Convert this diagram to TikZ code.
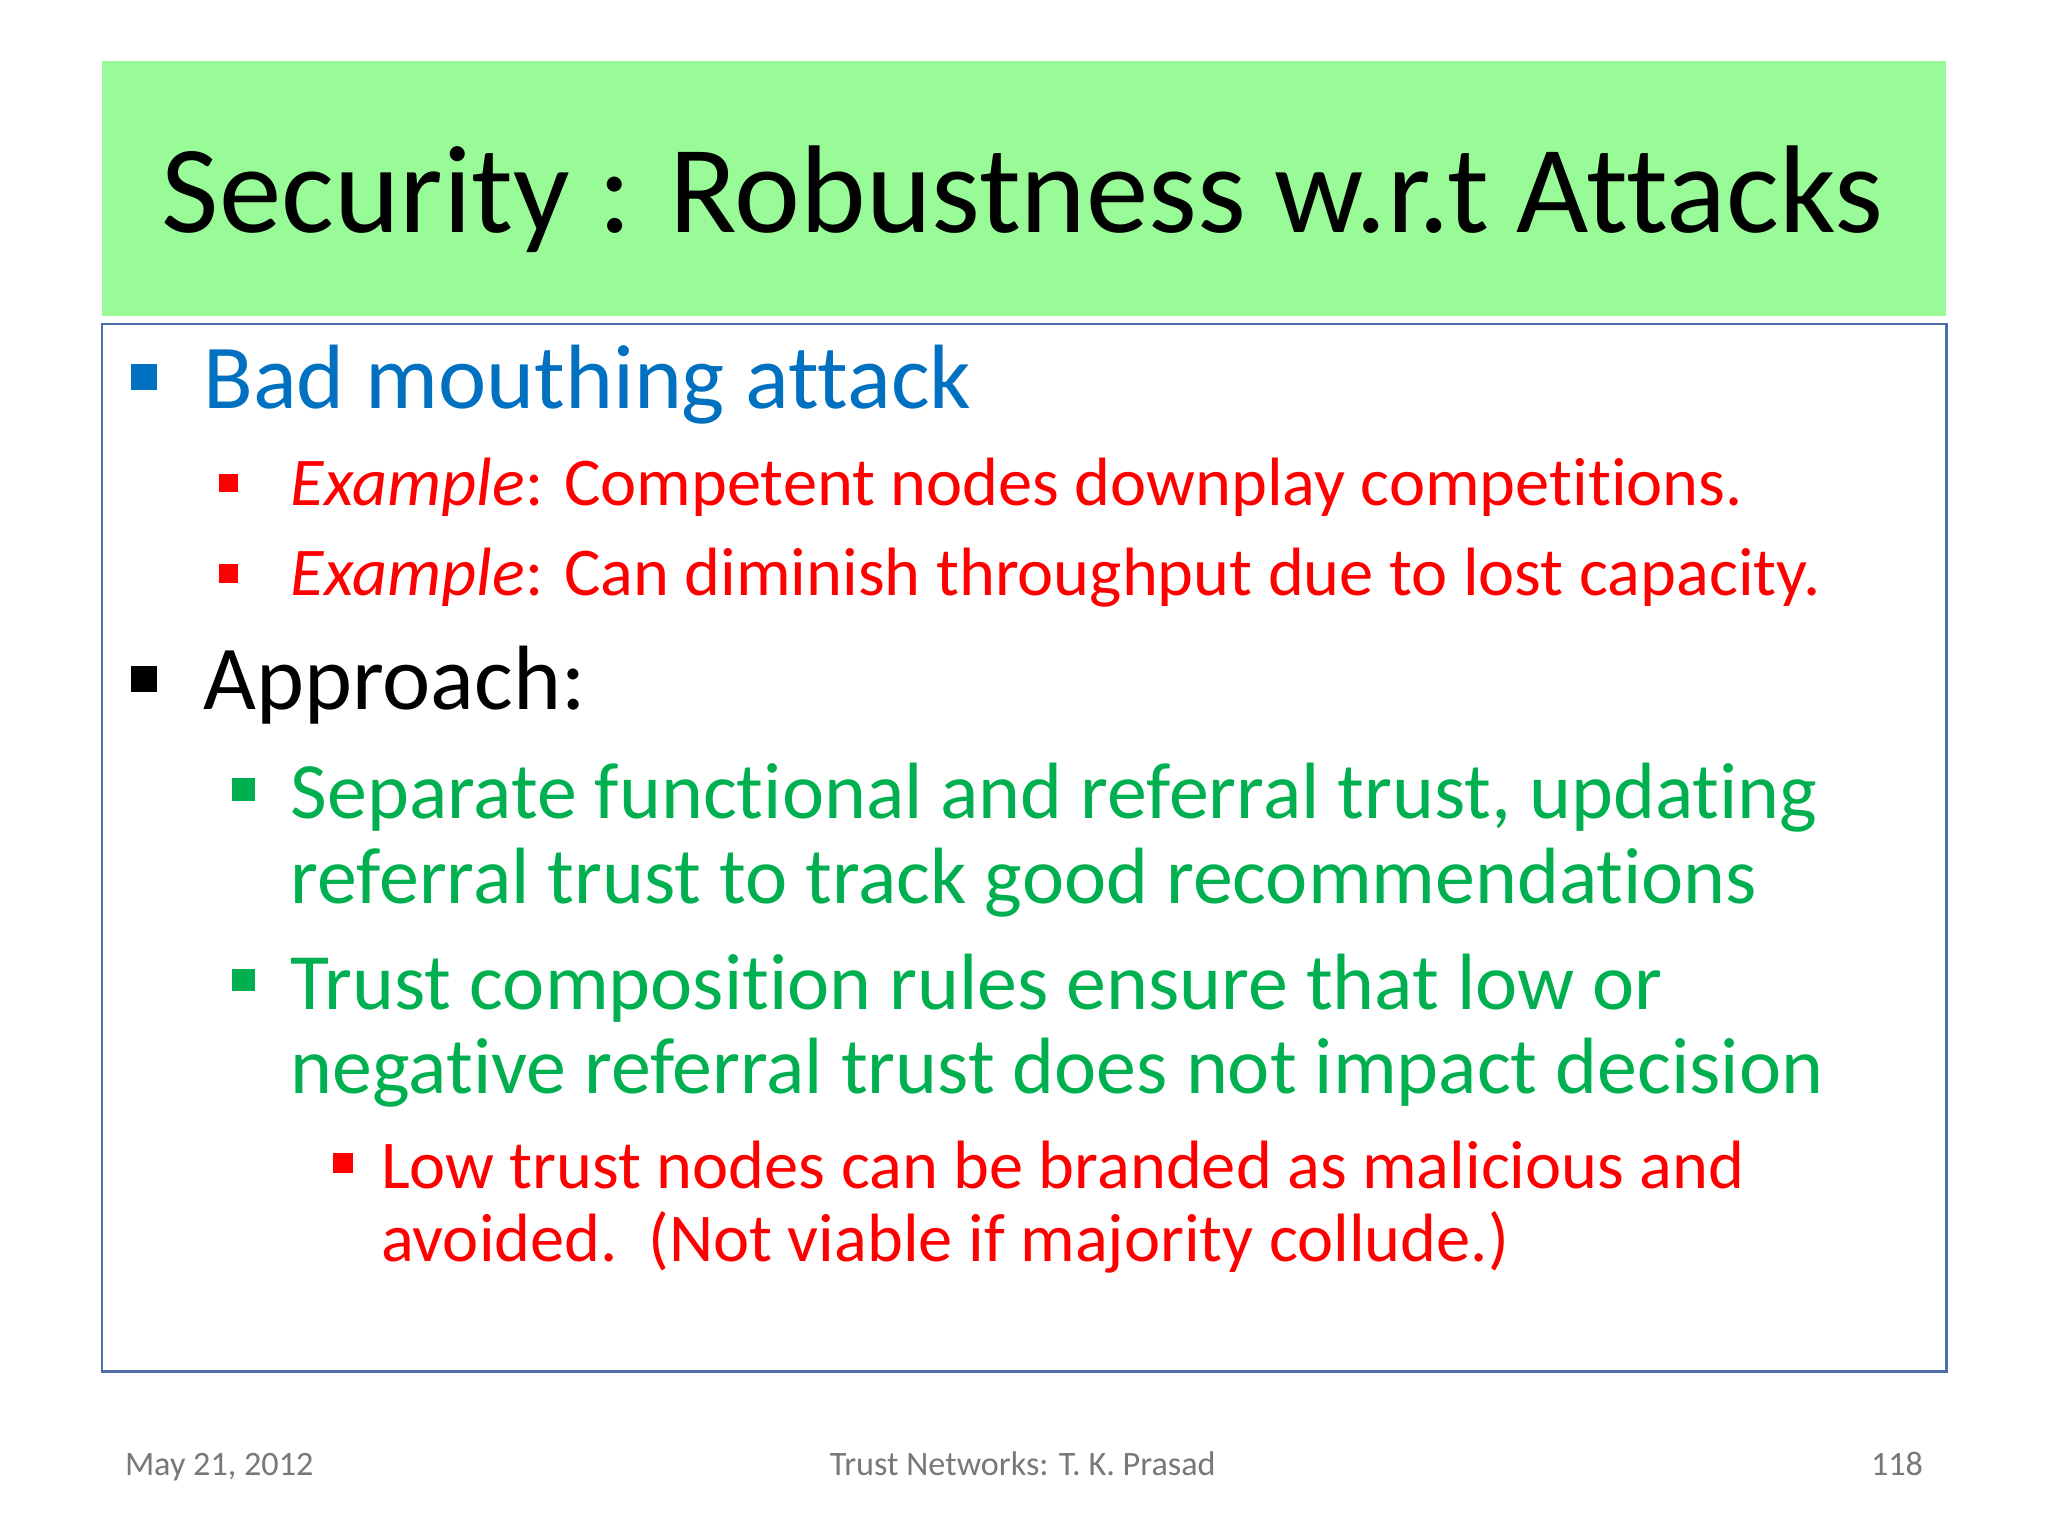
\documentclass[tikz,border=0pt]{standalone}
\usepackage{fontspec}
\setmainfont[Ligatures=NoCommon]{Carlito}
\definecolor{titlegreen}{RGB}{152,251,152}
\definecolor{cblue}{HTML}{0070C0}
\definecolor{cred}{HTML}{FF0000}
\definecolor{cgreen}{HTML}{00B050}
\definecolor{cgray}{RGB}{120,120,120}
\definecolor{boxblue}{RGB}{80,110,170}
\tikzset{
 t/.style={anchor=base west,inner sep=0pt},
 lone/.style={t,font=\fontsize{19.9}{24}\selectfont},
 ltwo/.style={t,font=\fontsize{14.9}{18}\selectfont,text=cred},
 lgreen/.style={t,font=\fontsize{17.4}{21}\selectfont,text=cgreen},
 lthree/.style={t,font=\fontsize{14.9}{18}\selectfont,text=cred},
 foot/.style={inner sep=0pt,anchor=base,font=\fontsize{7.45}{9}\selectfont,text=cgray},
}
\newcommand{\bsq}[4]{\fill[#1] (#2/100,{11.76-#3/100}) rectangle ++(#4/100,#4/100);}
\begin{document}
\begin{tikzpicture}[x=1cm,y=1cm]
\useasboundingbox (0,0) rectangle (15.68,11.76);
\fill[white] (0,0) rectangle (15.68,11.76);
% title
\fill[titlegreen] (0.78,{11.76-2.42}) rectangle (14.90,{11.76-0.47});
\node[inner sep=0pt,anchor=base,font=\fontsize{27.2}{32}\selectfont] (title) at (7.83,{11.76-1.78}) {Security : Robustness w.r.t Attacks};
% content box
\draw[boxblue,line width=0.6pt] (0.78,{11.76-10.50}) rectangle (14.90,{11.76-2.48});
% level 1
\bsq{cblue}{100}{299}{20}
\node[lone,text=cblue] (b1) at (1.55,{11.76-3.13}) {Bad mouthing attack};
\bsq{cred}{168}{377}{14}
\node[ltwo] (e1) at (2.22,{11.76-3.87}) {\textit{Example}: Competent nodes downplay competitions.};
\bsq{cred}{168}{446}{14}
\node[ltwo] (e2) at (2.22,{11.76-4.56}) {\textit{Example}: Can diminish throughput due to lost capacity.};
\bsq{black}{100}{530}{20}
\node[lone] (ap) at (1.55,{11.76-5.43}) {Approach:};
\bsq{cgreen}{178}{613}{17}
\node[lgreen] (g1) at (2.22,{11.76-6.27}) {Separate functional and referral trust, updating};
\node[lgreen] (g1b) at (2.22,{11.76-6.92}) {referral trust to track good recommendations};
\bsq{cgreen}{178}{759}{17}
\node[lgreen] (g2) at (2.22,{11.76-7.73}) {Trust composition rules ensure that low or};
\node[lgreen] (g2b) at (2.22,{11.76-8.37}) {negative referral trust does not impact decision};
\bsq{cred}{255}{898}{15}
\node[lthree] (r1) at (2.91,{11.76-9.10}) {Low trust nodes can be branded as malicious and};
\node[lthree] (r1b) at (2.91,{11.76-9.66}) {avoided.\ \ (Not viable if majority collude.)};
% footer
\node[foot,anchor=base west] (d) at (0.95,{11.76-11.30}) {May 21, 2012};
\node[foot] (m) at (7.83,{11.76-11.30}) {Trust Networks: T. K. Prasad};
\node[foot,anchor=base east] (p) at (14.73,{11.76-11.30}) {118};
\end{tikzpicture}
\end{document}
